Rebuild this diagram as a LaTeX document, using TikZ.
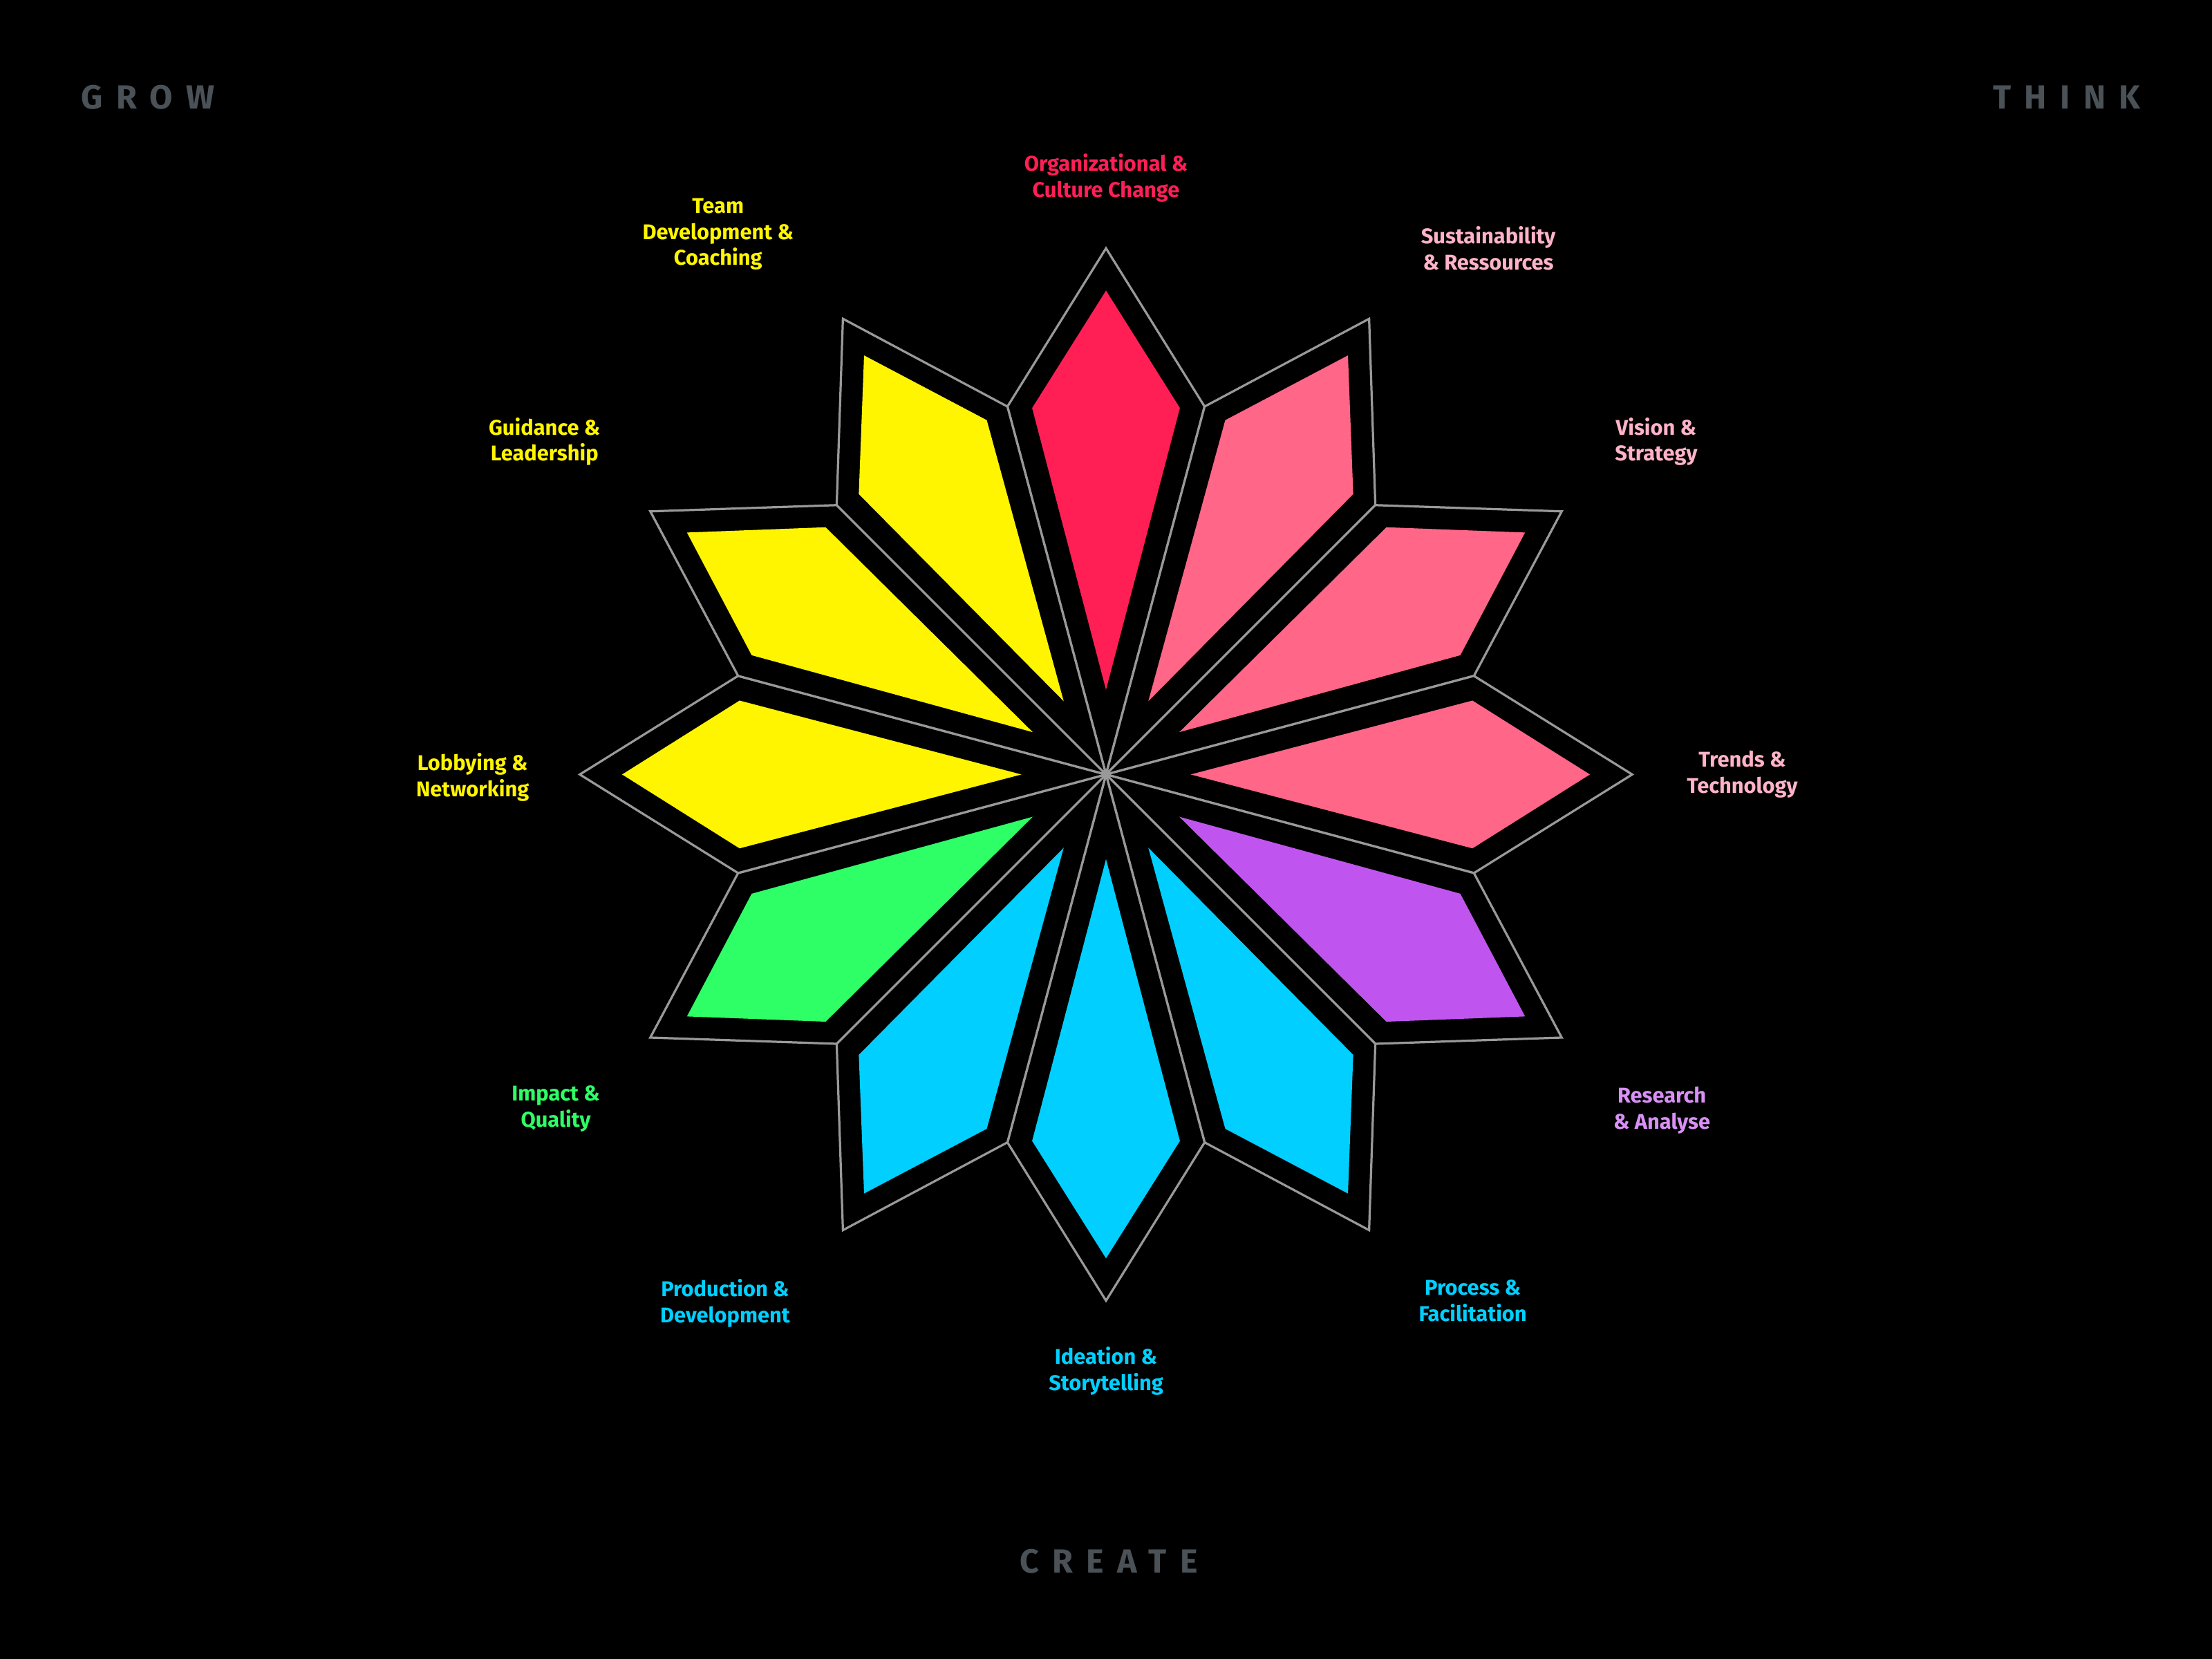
\documentclass[tikz,border=0pt]{standalone}
\usepackage{fontspec}
\usetikzlibrary{calc}
\setmainfont{Fira Sans}
\definecolor{cred}{HTML}{FF1F55}
\definecolor{cpink}{HTML}{FF6688}
\definecolor{cpur}{HTML}{BF55EE}
\definecolor{ccyan}{HTML}{00CFFF}
\definecolor{cgreen}{HTML}{2EFF66}
\definecolor{cyel}{HTML}{FFF500}
\definecolor{lpink}{HTML}{FFB3C8}
\definecolor{lpur}{HTML}{D890F5}
\definecolor{cgray}{HTML}{4A5157}
\tikzset{lbl/.style={align=center,font=\fontsize{8.6}{10.5}\selectfont\bfseries},
corner/.style={font=\fontsize{13.5}{16}\selectfont\bfseries\addfontfeature{LetterSpace=40},text=cgray}}
\begin{document}
\begin{tikzpicture}[x=0.02cm,y=0.02cm]
\fill[black] (0,0) rectangle (1568,1176);
\useasboundingbox (0,0) rectangle (1568,1176);
\coordinate (c) at (784,627);
\foreach \i/\col in {0/cred,1/cpink,2/cpink,3/cpink,4/cpur,5/ccyan,6/ccyan,7/ccyan,8/cgreen,9/cyel,10/cyel,11/cyel}{
  \pgfmathsetmacro{\a}{90-30*\i}
  \draw[gray!80,line width=0.9pt,fill=black] (c) -- ($(c)+(\a-15:270)$) coordinate (o\i r) -- ($(c)+(\a:373)$) coordinate (t\i) -- ($(c)+(\a+15:270)$) coordinate (o\i l) -- cycle;
  \fill[\col] ($(c)+(\a:60)$) coordinate (k\i) -- ($(c)+(\a-11.4:265)$) -- ($(c)+(\a:343)$) -- ($(c)+(\a+11.4:265)$) -- cycle;
}
\node[lbl,text=cred] (l0) at (784,1050) {Organizational \&\\Culture Change};
\node[lbl,text=lpink] (l1) at (1055,1000) {Sustainability\\\& Ressources};
\node[lbl,text=lpink] (l2) at (1174,863) {Vision \&\\Strategy};
\node[lbl,text=lpink] (l3) at (1235,627) {Trends \&\\Technology};
\node[lbl,text=lpur] (l4) at (1178,389) {Research\\\& Analyse};
\node[lbl,text=ccyan] (l5) at (1044,254) {Process \&\\Facilitation};
\node[lbl,text=ccyan] (l6) at (784,204) {Ideation \&\\Storytelling};
\node[lbl,text=ccyan] (l7) at (514,252) {Production \&\\Development};
\node[lbl,text=cgreen] (l8) at (394,390) {Impact \&\\Quality};
\node[lbl,text=cyel] (l9) at (335,625) {Lobbying \&\\Networking};
\node[lbl,text=cyel] (l10) at (386,863) {Guidance \&\\Leadership};
\node[lbl,text=cyel] (l11) at (509,1010) {Team\\Development \&\\Coaching};
\node[corner] (grow) at (105,1107) {GROW};
\node[corner] (think) at (1465,1107) {THINK};
\node[corner] (create) at (786,69) {CREATE};
\end{tikzpicture}
\end{document}
